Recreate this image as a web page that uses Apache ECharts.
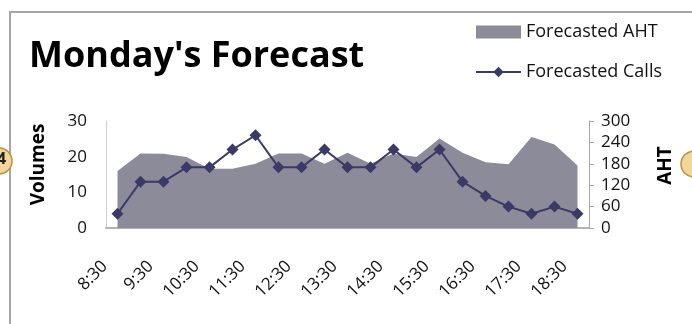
<!DOCTYPE html>
<html><head><meta charset="utf-8">
<script src="https://cdn.jsdelivr.net/npm/echarts@6/dist/echarts.min.js"></script>
<style>html,body{margin:0;padding:0;background:#fff}#c{width:692px;height:324px}</style>
</head><body><div id="c"></div>
<script>
var times = ['8:30','9:00','9:30','10:00','10:30','11:00','11:30','12:00','12:30','13:00','13:30','14:00','14:30','15:00','15:30','16:00','16:30','17:00','17:30','18:00','18:30'];
var forecastedCalls = [4,13,13,17,17,22,26,17,17,22,17,17,22,17,22,13,9,6,4,6,4];
var forecastedAHT = [160,209,208,199,166,166,180,209,209,180,211,180,209,199,251,211,184,179,255,234,175];
var volumeTicks = {min:0, max:30, interval:10};
var ahtTicks = {min:0, max:300, interval:60};

var FONT = '"Open Sans", sans-serif';
var chart = echarts.init(document.getElementById('c'), null, {renderer:'canvas'});
chart.setOption({
  animation:false,
  textStyle:{fontFamily:FONT},
  title:{text:"Monday's Forecast", left:24, top:34,
    textStyle:{fontFamily:FONT, fontWeight:'bold', fontSize:36, color:'#000'}},
  legend:{orient:'vertical', left:470, top:18, itemWidth:45, itemHeight:13, itemGap:22,
    textStyle:{fontFamily:FONT, fontSize:18, color:'#111'},
    data:[{name:'Forecasted AHT', icon:'rect'},{name:'Forecasted Calls'}]},
  grid:{left:106, right:103, top:121, bottom:96, containLabel:false},
  xAxis:{type:'category', data:times, boundaryGap:true,
    axisLine:{show:true, lineStyle:{color:'#b3b3b3', width:2}},
    axisTick:{show:false},
    axisLabel:{interval:1, rotate:45, margin:23, padding:[0,18,0,0], fontSize:17, color:'#111', fontFamily:FONT}},
  yAxis:[
    {type:'value', min:volumeTicks.min, max:volumeTicks.max, interval:volumeTicks.interval,
      name:'Volumes', nameLocation:'middle', nameRotate:90, nameGap:58,
      nameTextStyle:{fontFamily:FONT, fontWeight:'bold', fontSize:19, color:'#000', padding:[0,0,0,20]},
      axisLine:{show:true, lineStyle:{color:'#cfcfcf', width:1}},
      axisTick:{show:false}, splitLine:{show:false},
      axisLabel:{margin:19, fontSize:17, color:'#111', fontFamily:FONT}},
    {type:'value', position:'right', min:ahtTicks.min, max:ahtTicks.max, interval:ahtTicks.interval,
      name:'AHT', nameLocation:'middle', nameRotate:90, nameGap:67,
      nameTextStyle:{fontFamily:FONT, fontWeight:'bold', fontSize:19, color:'#000', padding:[0,0,0,18]},
      axisLine:{show:true, lineStyle:{color:'#a6a6a6', width:1}},
      axisTick:{show:true, length:5, lineStyle:{color:'#a6a6a6'}}, splitLine:{show:false},
      axisLabel:{margin:12, fontSize:17, color:'#111', fontFamily:FONT}}
  ],
  series:[
    {name:'Forecasted AHT', type:'line', yAxisIndex:1, data:forecastedAHT,
      symbol:'none', lineStyle:{width:0, color:'#8c8b9a'}, itemStyle:{color:'#8c8b9a'},
      areaStyle:{color:'#8c8b9a', opacity:1}, z:1},
    {name:'Forecasted Calls', type:'line', yAxisIndex:0, data:forecastedCalls,
      symbol:'diamond', symbolSize:12, showAllSymbol:true,
      lineStyle:{width:2, color:'#3b3966'}, itemStyle:{color:'#3b3966'}, z:3}
  ],
  graphic:[
    {type:'rect', shape:{x:10, y:12, width:700, height:330}, style:{fill:'none', stroke:'#a6a6a6', lineWidth:2}, silent:true},
    {type:'circle', shape:{cx:-1, cy:161, r:13}, style:{fill:'#f2d79a', stroke:'#b8923e', lineWidth:1.5}, silent:true},
    {type:'text', x:-3, y:151, style:{text:'4', fontSize:16, fontWeight:'bold', fill:'#222', fontFamily:FONT}, silent:true},
    {type:'circle', shape:{cx:694, cy:164, r:13}, style:{fill:'#f2d79a', stroke:'#b8923e', lineWidth:1.5}, silent:true}
  ]
});
</script></body></html>
